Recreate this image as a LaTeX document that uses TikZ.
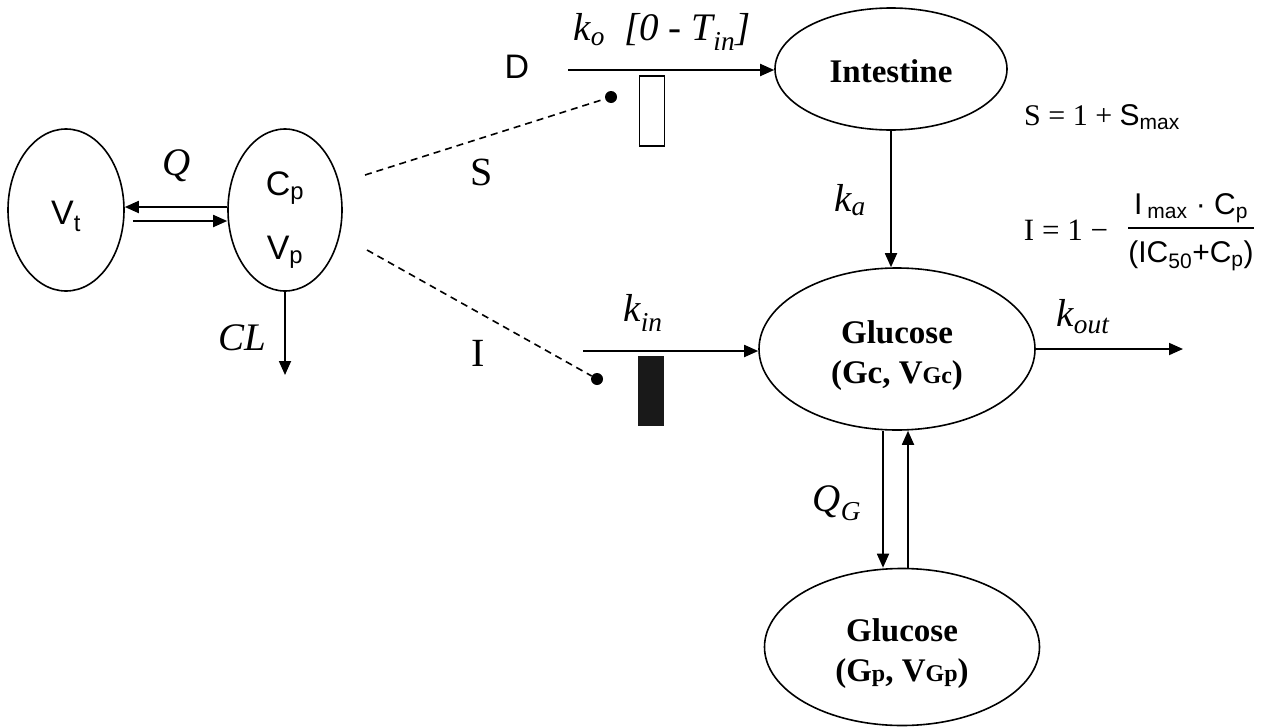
\documentclass[tikz,border=0pt]{standalone}
\usepackage{fontspec}
\setmainfont{Liberation Serif}
\setsansfont{Liberation Sans}
\usetikzlibrary{arrows.meta,shapes.geometric,positioning,calc}
\setlength{\arrayrulewidth}{1.6pt}

\begin{document}
\begin{tikzpicture}[x=1pt, y=-1pt,
  comp/.style={ellipse, draw, line width=1.6pt, inner sep=0pt},
  seta/.style={-{Triangle[length=14pt,width=12pt]}, line width=1.8pt},
  tracejado/.style={line width=1.6pt, dash pattern=on 7pt off 5pt},
  ponto/.style={circle, fill, inner sep=0pt, minimum size=12pt},
  barra/.style={inner sep=0pt, minimum width=25pt, minimum height=70pt},
  rotsans/.style={font=\fontsize{34}{40}\selectfont\sffamily},
  rotbold/.style={font=\fontsize{33}{40}\selectfont\bfseries, align=center},
  rotit/.style={font=\fontsize{39}{44}\selectfont\itshape},
  rotrm/.style={font=\fontsize{40}{44}\selectfont}]
\useasboundingbox (0,0) rectangle (1269,728);

% ================= farmacocinetica : V_t <-> C_p =================
\node[comp, rotsans, minimum width=116pt, minimum height=162pt] (vt) at (66,210)
  {\raisebox{-6pt}[\height][\depth]{V\textsubscript{t}}};
\node[comp, minimum width=114pt, minimum height=162pt,
  font=\fontsize{34}{70}\selectfont\sffamily] (cp) at (285,210)
  {\raisebox{-10pt}[\height][\depth]{\shortstack{C\textsubscript{p}\\[28pt]V\textsubscript{p}}}};
\draw[seta] ([yshift=3pt]cp.west) -- ([yshift=3pt]cp.west -| vt.east);
\draw[seta] ([yshift=-11pt,xshift=8pt]vt.east) -- ([yshift=-11pt]cp.west);
\node[rotit] (q) at (177,166) {Q};
\coordinate (clfim) at (285,375);
\draw[seta] (cp.south) -- (clfim);
\node[rotit] (cl) at (242,338) {CL};

% ================= efeitos S e I =================
\coordinate (sini) at (365,175);
\node[ponto] (sdot) at (611,97) {};
\draw[tracejado] (sini) -- (sdot);
\node[rotrm] (slbl) at (482,172) {S};
\coordinate (iini) at (367,250);
\node[ponto] (idot) at (597,379) {};
\draw[tracejado] (iini) -- (idot);
\node[rotrm] (ilbl) at (478,353) {I};

% ================= dose -> intestino =================
\node[rotsans] (dose) at (517,67) {D};
\node[comp, rotbold, minimum width=232pt, minimum height=122pt] (intest) at (891,69)
  {\raisebox{-2pt}[\height][\depth]{Intestine}};
\coordinate (dini) at (568,70);
\draw[seta] (dini) -- (dini -| intest.west);
\node[rotit] (ko) at (662,32) {k\textsubscript{o}~ [0 - T\textsubscript{in}]};
\node[barra, draw, line width=1.5pt] (sbar) at (652,111) {};

% ================= glicose =================
\node[comp, rotbold, minimum width=276pt, minimum height=162pt] (glicc) at (897,349)
  {\raisebox{-6pt}[\height][\depth]{\begin{tabular}{@{}c@{}}Glucose\\(Gc, V{\fontsize{24}{24}\selectfont Gc})\end{tabular}}};
\node[comp, rotbold, minimum width=275pt, minimum height=157pt] (glicp) at (902,647)
  {\raisebox{-6pt}[\height][\depth]{\begin{tabular}{@{}c@{}}Glucose\\(G{\fontsize{24}{24}\selectfont p}, V{\fontsize{24}{24}\selectfont Gp})\end{tabular}}};
\draw[seta] (intest.south) -- (intest.south |- glicc.north);
\node[rotit] (ka) at (850,200) {k\textsubscript{a}};
\coordinate (kini) at (583,351);
\draw[seta] (kini) -- (kini -| glicc.west);
\node[rotit] (kin) at (643,313) {k\textsubscript{in}};
\node[barra, fill=black!90, minimum width=26pt] (ibar) at (651,391) {};
\coordinate (koutfim) at (1183,349);
\draw[seta] (glicc.east) -- (glicc.east -| koutfim);
\node[rotit] (kout) at (1083,317) {k\textsubscript{out}};
\draw[seta] ([xshift=-14pt]glicc.south) -- ([xshift=-14pt]glicc.south |- glicp.north);
\draw[seta] ([xshift=6pt]glicp.north) -- ([xshift=6pt]glicp.north |- glicc.south);
\node[rotit] (qg) at (837,503) {Q\textsubscript{G}};

% ================= equacoes =================
\node[font=\fontsize{30}{34}\selectfont] (sform) at (1102,117)
  {S = 1 + \textsf{S\textsubscript{max}}};
\node[font=\fontsize{31}{34}\selectfont] (iform) at (1066,230) {I = 1 −};
\node[font=\fontsize{30}{34}\selectfont\sffamily] (ifrac) at (1191,232)
  {\begin{tabular}{@{}c@{}}I\,\textsubscript{max} · C\textsubscript{p}\\[2pt]\hline
   \rule{0pt}{34pt}(IC\textsubscript{50}+C\textsubscript{p})\end{tabular}};

\end{tikzpicture}
\end{document}
